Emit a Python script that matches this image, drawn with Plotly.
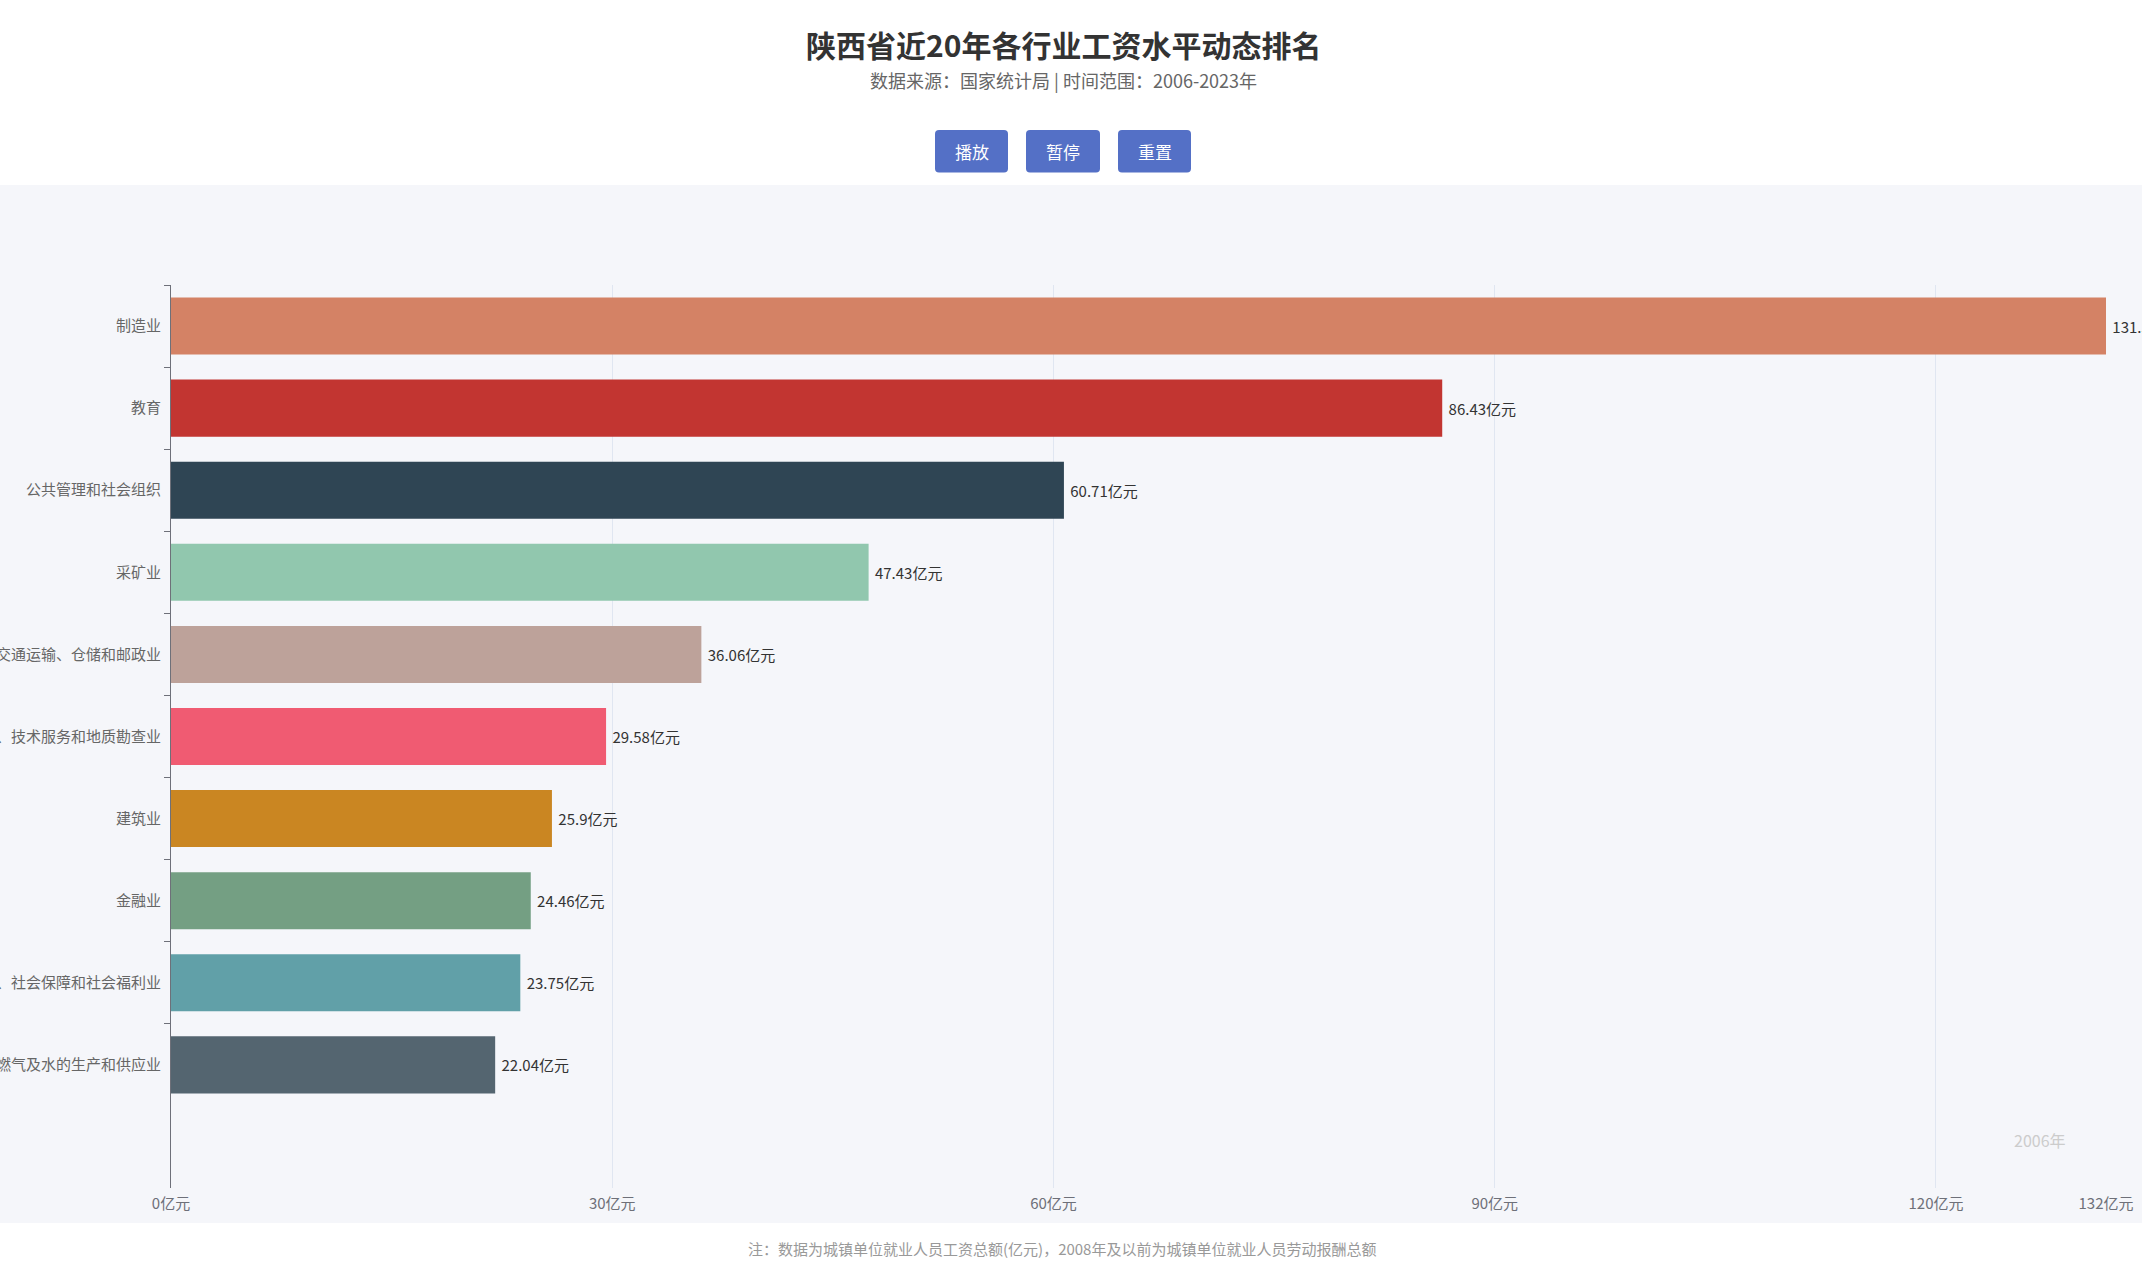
import plotly.graph_objects as go

# ---------------- data ----------------
categories = [
    "制造业",
    "教育",
    "公共管理和社会组织",
    "采矿业",
    "交通运输、仓储和邮政业",
    "科学研究、技术服务和地质勘查业",
    "建筑业",
    "金融业",
    "卫生、社会保障和社会福利业",
    "电力、燃气及水的生产和供应业",
]
values = [131.56, 86.43, 60.71, 47.43, 36.06, 29.58, 25.9, 24.46, 23.75, 22.04]
colors = ["#d48265", "#c23531", "#2f4554", "#91c7ae", "#bda29a",
          "#f05b72", "#ca8622", "#749f83", "#61a0a8", "#546570"]
x_tickvals = [0, 30, 60, 90, 120]
unit = "亿元"
year_label = "2006年"
title_text = "陕西省近20年各行业工资水平动态排名"
subtitle_text = "数据来源：国家统计局 | 时间范围：2006-2023年"
note_text = "注：数据为城镇单位就业人员工资总额(亿元)，2008年及以前为城镇单位就业人员劳动报酬总额"
button_labels = ["播放", "暂停", "重置"]

# ---------------- geometry ----------------
W, H = 2142, 1262
L, R, T, B = 171, 2106, 285, 1188
FONT = "Noto Sans CJK SC, Noto Sans, sans-serif"


def px_x(X):
    return (X - L) / (R - L)


def px_y(Y):
    return (B - Y) / (B - T)


def rounded_rect_path(x0, y0, x1, y1, r):
    pts = [
        f"M {px_x(x0 + r)},{px_y(y0)}",
        f"L {px_x(x1 - r)},{px_y(y0)}",
        f"Q {px_x(x1)},{px_y(y0)} {px_x(x1)},{px_y(y0 + r)}",
        f"L {px_x(x1)},{px_y(y1 - r)}",
        f"Q {px_x(x1)},{px_y(y1)} {px_x(x1 - r)},{px_y(y1)}",
        f"L {px_x(x0 + r)},{px_y(y1)}",
        f"Q {px_x(x0)},{px_y(y1)} {px_x(x0)},{px_y(y1 - r)}",
        f"L {px_x(x0)},{px_y(y0 + r)}",
        f"Q {px_x(x0)},{px_y(y0)} {px_x(x0 + r)},{px_y(y0)}",
        "Z",
    ]
    return " ".join(pts)


xmax = max(values)
tickvals = x_tickvals + [xmax]
ticktext = [f"{v}{unit}" for v in x_tickvals] + [f"{round(xmax)}{unit}"]

fig = go.Figure()
fig.add_trace(go.Bar(
    x=values,
    y=categories,
    orientation="h",
    marker=dict(color=colors, line=dict(width=0)),
    text=[f"\u00a0{v:g}{unit}" for v in values],
    textposition="outside",
    textfont=dict(size=15, color="#333333", family=FONT),
    cliponaxis=False,
    constraintext="none",
    hoverinfo="skip",
))

annotations = [
    dict(text=f"<b>{title_text}</b>", x=px_x(1063), xref="paper", y=px_y(44), yref="paper",
         xanchor="center", yanchor="middle", showarrow=False,
         font=dict(size=30, color="#333333", family=FONT)),
    dict(text=subtitle_text, x=px_x(1063), xref="paper", y=px_y(80), yref="paper",
         xanchor="center", yanchor="middle", showarrow=False,
         font=dict(size=18, color="#666666", family=FONT)),
    dict(text=note_text, x=px_x(1062), xref="paper", y=px_y(1248), yref="paper",
         xanchor="center", yanchor="middle", showarrow=False,
         font=dict(size=15, color="#999999", family=FONT)),
    dict(text=year_label, x=px_x(2068), xref="paper", y=px_y(1140), yref="paper",
         xanchor="right", yanchor="middle", showarrow=False,
         font=dict(size=16, color="#cccccc", family=FONT)),
]

shapes = [
    dict(type="rect", xref="paper", yref="paper",
         x0=px_x(-5), x1=px_x(W + 5), y0=px_y(1223), y1=px_y(185),
         fillcolor="#f5f6fa", line=dict(width=0), layer="below"),
]

btn_boxes = [(935, 1008), (1026, 1100), (1118, 1191)]
for lab, (bx0, bx1) in zip(button_labels, btn_boxes):
    shapes.append(dict(type="path", xref="paper", yref="paper",
                       path=rounded_rect_path(bx0, 130, bx1, 172.5, 4),
                       fillcolor="#5470c6", line=dict(width=0), layer="above"))
    annotations.append(dict(
        text=lab, x=px_x((bx0 + bx1) / 2), xref="paper", y=px_y(151.5), yref="paper",
        xanchor="center", yanchor="middle", showarrow=False,
        font=dict(size=17, color="#ffffff", family=FONT)))

fig.update_layout(
    width=W, height=H,
    margin=dict(l=L, r=W - R, t=T, b=H - B, pad=0),
    paper_bgcolor="#ffffff",
    plot_bgcolor="rgba(0,0,0,0)",
    showlegend=False,
    bargap=0.305,
    font=dict(family=FONT),
    annotations=annotations,
    shapes=shapes,
    xaxis=dict(
        range=[0, xmax], tickmode="array", tickvals=tickvals, ticktext=ticktext,
        showgrid=True, gridcolor="#e0e6f1", gridwidth=1, zeroline=False,
        showline=False, ticks="", tickfont=dict(size=15, color="#6e7079"),
        ticklabelstandoff=5,
        automargin=False, fixedrange=True,
    ),
    yaxis=dict(
        type="category", categoryorder="array", categoryarray=categories,
        range=[len(categories) + 0.5, -0.5],
        showline=True, linecolor="#6e7079", linewidth=1,
        ticks="outside", tickson="boundaries", ticklen=6, tickcolor="#6e7079",
        showgrid=False, zeroline=False,
        tickfont=dict(size=15, color="#666666"),
        ticklabelstandoff=6,
        automargin=False, fixedrange=True,
    ),
)

fig.write_html("out.html", config={"displayModeBar": False},
               post_script="document.body.style.margin='0';document.body.style.overflow='hidden';")
